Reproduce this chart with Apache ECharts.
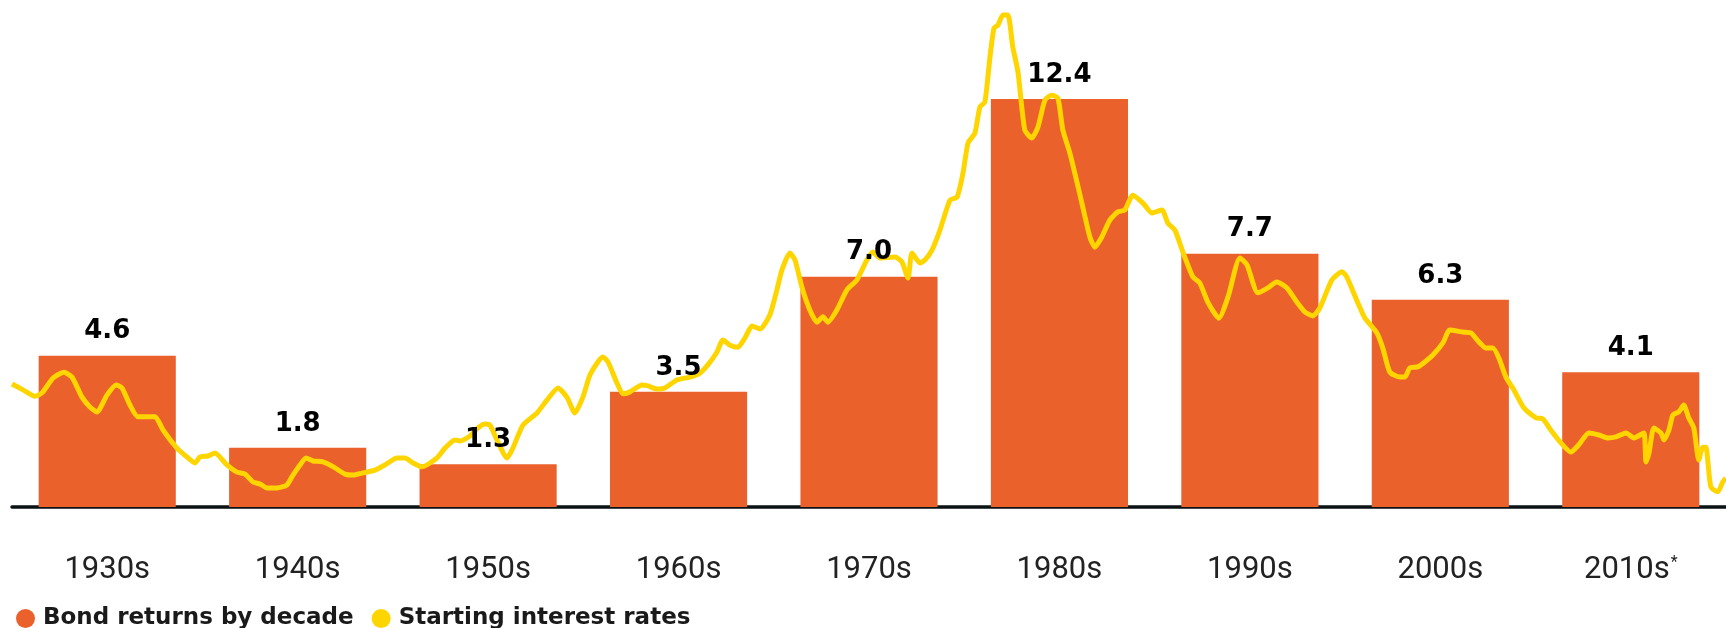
<!DOCTYPE html>
<html>
<head>
<meta charset="utf-8">
<title>Bond returns by decade</title>
<script src="https://cdn.jsdelivr.net/npm/echarts@6/dist/echarts.min.js"></script>
<style>
  html, body { margin: 0; padding: 0; background: #fff; }
  #chart { width: 1726px; height: 628px; }
</style>
</head>
<body>
<div id="chart"></div>
<script>
// decades on the category axis
const decades = ['1930s', '1940s', '1950s', '1960s', '1970s', '1980s', '1990s', '2000s', '2010s']
// bond returns by decade (%)
const bondReturns = [4.6, 1.8, 1.3, 3.5, 7.0, 12.4, 7.7, 6.3, 4.1]

// starting interest rates (year, %)
const rateYears = [
  1930.0, 1930.58, 1931.21, 1931.58, 1932.16, 1932.73, 1933.15, 1933.68, 1934.1, 1934.47,
  1934.99, 1935.47, 1935.78, 1936.2, 1936.62, 1937.1, 1937.52, 1937.94, 1938.67, 1939.2,
  1939.62, 1939.88, 1940.3, 1940.67, 1941.3, 1941.83, 1942.25, 1942.67, 1943.04, 1943.4,
  1943.93, 1944.45, 1944.77, 1945.14, 1945.45, 1945.82, 1946.35, 1946.98, 1947.5, 1947.92,
  1948.4, 1949.08, 1949.61, 1950.24, 1950.66, 1951.08, 1951.55, 1952.34, 1952.76, 1953.28,
  1953.55, 1954.07, 1954.49, 1954.86, 1955.12, 1955.49, 1956.02, 1956.33, 1956.86, 1957.6,
  1958.12, 1958.7, 1959.17, 1959.59, 1960.01, 1960.38, 1960.8, 1961.06, 1961.33, 1961.8,
  1962.12, 1962.49, 1963.11, 1963.43, 1963.9, 1964.32, 1964.95, 1965.64, 1966.16, 1966.58,
  1967.06, 1967.37, 1967.74, 1968.16, 1968.53, 1968.9, 1969.32, 1969.84, 1970.21, 1970.47,
  1970.89, 1971.16, 1971.52, 1971.94, 1972.31, 1972.63, 1972.89, 1973.36, 1973.89, 1974.41,
  1974.94, 1975.26, 1975.62, 1976.41, 1976.78, 1977.1, 1977.31, 1977.73, 1977.99, 1978.36,
  1978.78, 1979.31, 1979.68, 1979.99, 1980.26, 1980.62, 1980.88, 1981.14, 1981.41, 1981.62,
  1981.83, 1982.09, 1982.35, 1982.61, 1982.88, 1983.24, 1983.61, 1983.93, 1984.3, 1984.66,
  1984.98, 1985.24, 1985.61, 1985.98, 1986.24, 1986.66, 1986.92, 1987.29, 1987.71, 1988.13,
  1988.5, 1988.92, 1989.45, 1989.92, 1990.45, 1990.76, 1991.13, 1991.55, 1992.08, 1992.44,
  1992.86, 1993.44, 1993.92, 1994.55, 1994.92, 1995.49, 1996.02, 1996.49, 1997.02, 1997.54,
  1997.96, 1998.38, 1998.75, 1999.38, 1999.91, 2000.17, 2000.75, 2001.12, 2001.75, 2002.06,
  2002.43, 2002.96, 2003.22, 2003.48, 2003.9, 2004.27, 2004.69, 2005.22, 2005.58, 2006.27,
  2006.69, 2007.11, 2007.48, 2007.84, 2008.16, 2008.53, 2008.95, 2009.48, 2010.11, 2010.47,
  2010.89, 2011.42, 2011.94, 2012.36, 2012.89, 2013.42, 2013.89, 2014.31, 2014.84, 2015.26,
  2015.78, 2015.89, 2016.05, 2016.31, 2016.68, 2016.84, 2017.1, 2017.31, 2017.62, 2017.88,
  2018.14, 2018.41, 2018.67, 2018.88, 2019.04, 2019.3, 2019.67, 2019.93, 2020.09
]
const rateValues = [
  3.74, 3.56, 3.37, 3.47, 3.92, 4.1, 3.95, 3.34, 3.04, 2.89,
  3.4, 3.71, 3.62, 3.1, 2.74, 2.74, 2.74, 2.34, 1.79, 1.52,
  1.34, 1.52, 1.55, 1.64, 1.28, 1.06, 1.0, 0.76, 0.7, 0.58,
  0.58, 0.67, 0.97, 1.28, 1.49, 1.4, 1.37, 1.19, 1.0, 0.97,
  1.03, 1.12, 1.28, 1.49, 1.49, 1.34, 1.22, 1.49, 1.79, 2.04,
  2.01, 2.16, 2.4, 2.52, 2.49, 2.04, 1.49, 1.79, 2.49, 2.86,
  3.25, 3.62, 3.34, 2.86, 3.34, 4.01, 4.41, 4.56, 4.41, 3.77,
  3.44, 3.5, 3.71, 3.68, 3.59, 3.62, 3.86, 3.95, 4.07, 4.32,
  4.71, 5.08, 4.92, 4.86, 5.14, 5.5, 5.41, 5.84, 6.6, 7.2,
  7.72, 7.51, 6.69, 5.99, 5.62, 5.78, 5.62, 5.99, 6.6, 6.9,
  7.51, 7.75, 7.57, 7.6, 7.45, 6.96, 7.72, 7.42, 7.51, 7.81,
  8.42, 9.33, 9.42, 10.15, 11.07, 11.37, 12.16, 12.31, 13.68, 14.56,
  14.65, 14.96, 14.96, 13.98, 13.23, 11.46, 11.22, 11.55, 12.37, 12.52,
  12.43, 11.46, 10.76, 9.88, 9.24, 8.21, 7.9, 8.21, 8.72, 8.97,
  9.03, 9.48, 9.24, 8.94, 9.03, 8.63, 8.42, 7.75, 6.99, 6.81,
  6.23, 5.74, 6.38, 7.57, 7.36, 6.51, 6.66, 6.84, 6.66, 6.23,
  5.93, 5.81, 6.05, 6.9, 7.15, 6.99, 6.2, 5.74, 5.29, 4.83,
  4.1, 3.95, 3.95, 4.23, 4.26, 4.41, 4.62, 4.99, 5.38, 5.32,
  5.29, 5.02, 4.83, 4.83, 4.53, 3.95, 3.56, 3.01, 2.71, 2.68,
  2.34, 1.95, 1.67, 1.89, 2.25, 2.19, 2.1, 2.13, 2.25, 2.1,
  2.25, 1.37, 1.64, 2.4, 2.25, 2.04, 2.34, 2.8, 2.89, 3.1,
  2.71, 2.4, 1.43, 1.82, 1.82, 0.61, 0.46, 0.76, 0.88
]

const legendNames = ['Bond returns by decade', 'Starting interest rates']
const barColor = '#EA612B'
const lineColor = '#FFD500'

const chart = echarts.init(document.getElementById('chart'))
chart.setOption({
  animation: false,
  backgroundColor: '#fff',
  grid: {
    left: 12,
    right: 0,
    top: 7,
    bottom: 121
  },
  legend: {
    data: legendNames,
    left: 11,
    top: 602,
    icon: 'circle',
    itemWidth: 19,
    itemHeight: 19,
    itemGap: 18,
    textStyle: {
      fontFamily: 'DejaVu Sans',
      fontWeight: 'bold',
      fontSize: 23,
      color: '#1a1a1a',
      padding: [0, 0, 0, 3]
    }
  },
  xAxis: [
    {
      type: 'category',
      data: decades,
      axisTick: { show: false },
      axisLine: {
        lineStyle: { color: '#0b1214', width: 3.5 }
      },
      axisLabel: {
        interval: 0,
        margin: 48,
        fontFamily: 'Roboto',
        fontSize: 31,
        color: '#222',
        formatter: function(v) {
          return v === '2010s' ? '{a|' + v + '}{sup|*}' : v
        },
        rich: {
          a: { fontFamily: 'Roboto', fontSize: 31, color: '#222' },
          sup: { fontFamily: 'Roboto', fontSize: 16, color: '#222', verticalAlign: 'top', padding: [0, 0, 14, 1] }
        }
      }
    },
    {
      type: 'value',
      min: 1930,
      max: 2020.1,
      show: false
    }
  ],
  yAxis: {
    type: 'value',
    min: 0,
    max: 15.2,
    show: false
  },
  series: [
    {
      name: legendNames[0],
      type: 'bar',
      xAxisIndex: 0,
      barCategoryGap: '28%',
      itemStyle: { color: barColor },
      data: bondReturns
    },
    {
      name: legendNames[1],
      type: 'line',
      xAxisIndex: 1,
      color: lineColor,
      symbol: 'none',
      smooth: 0.2,
      z: 3,
      lineStyle: { width: 5, color: lineColor },
      data: rateYears.map((y, i) => [y, rateValues[i]])
    },
    {
      // value labels, kept above the yellow line
      type: 'scatter',
      xAxisIndex: 0,
      symbolSize: 0,
      silent: true,
      z: 5,
      itemStyle: { opacity: 1 },
      label: {
        show: true,
        position: 'top',
        distance: 11,
        fontFamily: 'DejaVu Sans',
        fontWeight: 'bold',
        fontSize: 26,
        color: '#000',
        opacity: 1,
        formatter: function(p) {
          return p.value.toFixed(1)
        }
      },
      data: bondReturns
    }
  ]
})
</script>
</body>
</html>
